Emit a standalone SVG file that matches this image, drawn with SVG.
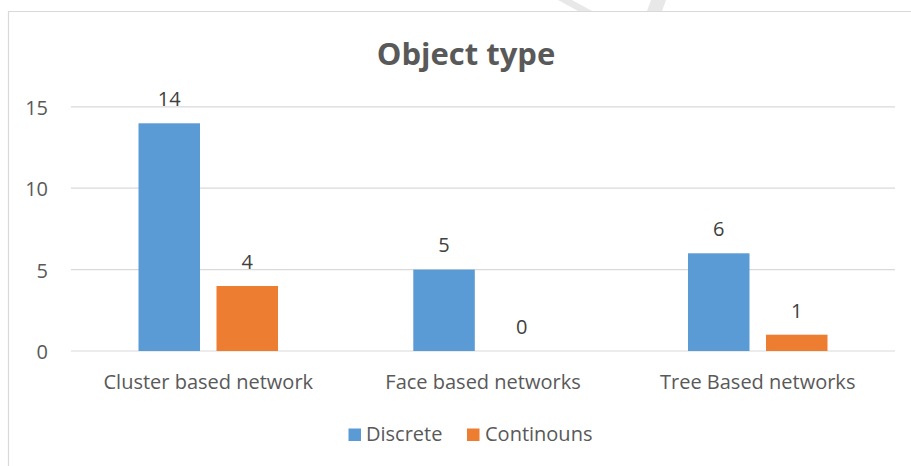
<svg xmlns="http://www.w3.org/2000/svg" width="911" height="466" viewBox="0 0 911 466">
  <style>
    .txt { font-family: "Open Sans", "Liberation Sans", sans-serif; fill: #595959; }
    .title { font-size: 31px; font-weight: bold; }
    .axis { font-size: 20px; text-anchor: end; }
    .cat { font-size: 20px; text-anchor: middle; }
    .val { font-size: 20px; text-anchor: middle; fill: #404040; }
    .leg { font-size: 20px; }
    .grid { stroke: #d9d9d9; stroke-width: 1.2; fill: none; }
    .frame { stroke: #d9d9d9; stroke-width: 1.2; fill: none; }
    .s1 { fill: #5b9bd5; }
    .s2 { fill: #ed7d31; }
  </style>

  <rect x="0" y="0" width="911" height="466" fill="#ffffff"/>

  <!-- faint mark outside the chart area -->
  <g id="mark" fill="#e8e8e8">
    <polygon points="558,0 572,0 592,11 578,11"/>
    <polygon points="651,0 666,0 662,11 647,11"/>
  </g>

  <!-- chart area frame -->
  <path class="frame" d="M8.5,466 V11.5 H911"/>

  <g id="title">
    <text class="txt title" x="466" y="65" text-anchor="middle">Object type</text>
  </g>

  <!-- value axis with gridlines -->
  <g id="value-axis">
    <line class="grid" x1="71" y1="106.8" x2="895" y2="106.8"/>
    <line class="grid" x1="71" y1="188.2" x2="895" y2="188.2"/>
    <line class="grid" x1="71" y1="269.6" x2="895" y2="269.6"/>
    <line class="grid" x1="71" y1="351" x2="895" y2="351"/>
    <text class="txt axis" x="48" y="114.5">15</text>
    <text class="txt axis" x="48" y="196">10</text>
    <text class="txt axis" x="48" y="277.5">5</text>
    <text class="txt axis" x="48" y="358.5">0</text>
  </g>

  <g id="cluster-based">
    <rect class="s1" x="138.5" y="123.3" width="61.5" height="227.7"/>
    <rect class="s2" x="216.5" y="286" width="61.5" height="65"/>
    <text class="txt val" x="169.3" y="105.5">14</text>
    <text class="txt val" x="247.3" y="269">4</text>
    <text class="txt cat" x="208.3" y="389">Cluster based network</text>
  </g>

  <g id="face-based">
    <rect class="s1" x="413.3" y="269.6" width="61.5" height="81.4"/>
    <text class="txt val" x="444" y="252">5</text>
    <text class="txt val" x="521.7" y="333.5">0</text>
    <text class="txt cat" x="483" y="389">Face based networks</text>
  </g>

  <g id="tree-based">
    <rect class="s1" x="688" y="253.3" width="61.5" height="97.7"/>
    <rect class="s2" x="766" y="334.7" width="61.5" height="16.3"/>
    <text class="txt val" x="718.7" y="236">6</text>
    <text class="txt val" x="796.7" y="317.5">1</text>
    <text class="txt cat" x="757.7" y="389">Tree Based networks</text>
  </g>

  <g id="legend">
    <rect class="s1" x="348.5" y="428.5" width="12.5" height="12.5"/>
    <text class="txt leg" x="366" y="441">Discrete</text>
    <rect class="s2" x="467" y="428.5" width="12.5" height="12.5"/>
    <text class="txt leg" x="485" y="441">Continouns</text>
  </g>
</svg>
